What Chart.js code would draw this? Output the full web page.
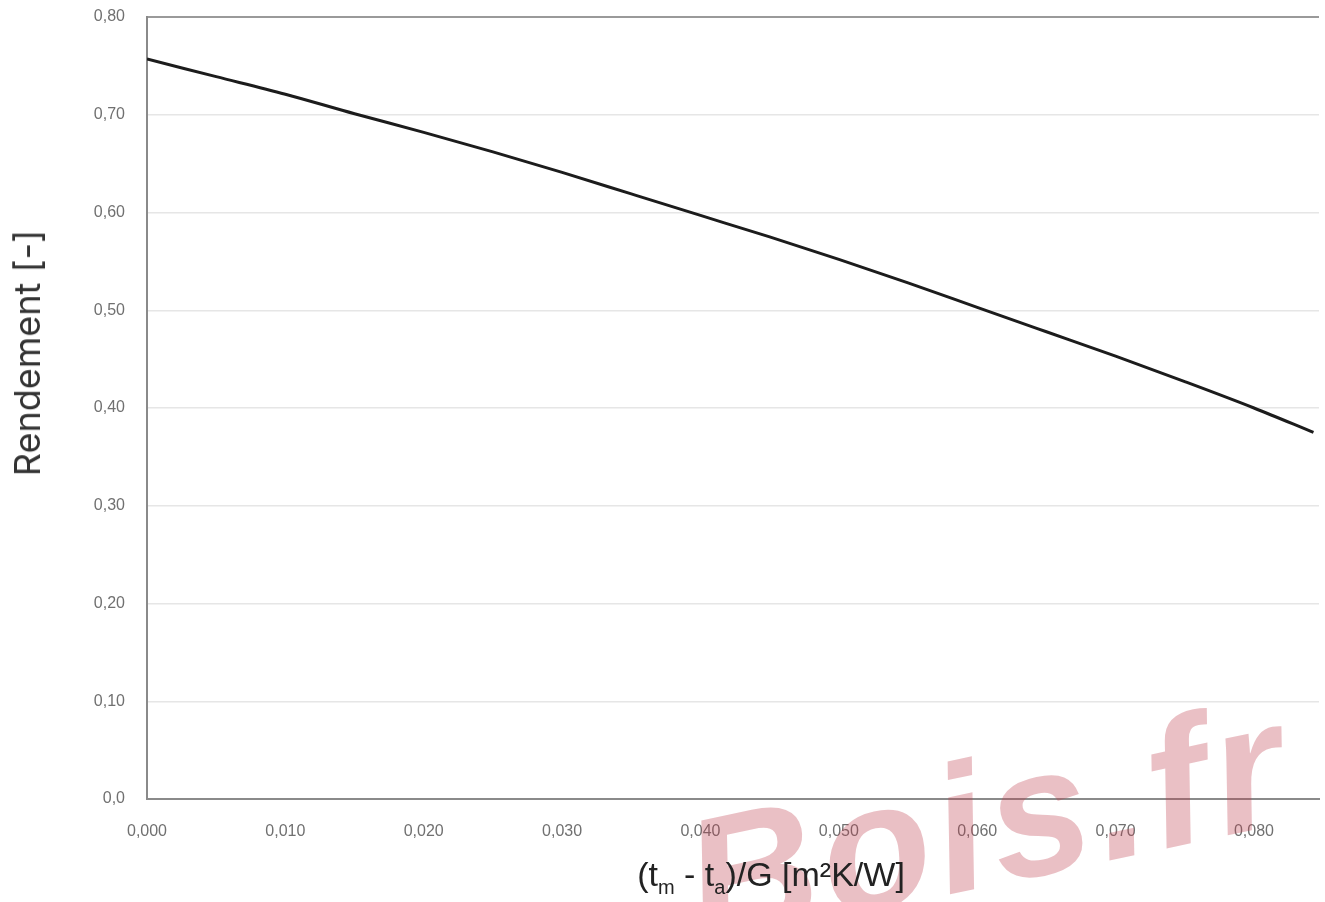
<!DOCTYPE html>
<html>
<head>
<meta charset="utf-8">
<script src="https://cdn.jsdelivr.net/npm/chart.js@4/dist/chart.umd.min.js"></script>
<style>
    body { margin: 0; background: #fff; }
    #wrap { position: relative; width: 1325px; height: 902px; overflow: hidden; }
    #chart { position: absolute; left: 0; top: 0; }
    .ytitle {
        position: absolute; left: 27px; top: 353px;
        transform: translate(-50%, -50%) rotate(-90deg);
        font-family: Inter, "Open Sans", sans-serif; font-size: 36px;
        color: #333; white-space: nowrap;
    }
    .xtitle {
        position: absolute; left: 771px; top: 877px;
        transform: translate(-50%, -50%);
        font-family: "Liberation Sans Narrow", "Arial Narrow", "Liberation Sans", sans-serif;
        font-size: 34px; color: #222; white-space: nowrap;
    }
    .xtitle sub { font-size: 20px; vertical-align: -8px; }
    .watermark {
        position: absolute; left: 666px; top: 785px;
        transform: rotate(-12deg); transform-origin: left top;
        font-family: "Liberation Sans", Arial, sans-serif; font-weight: bold; font-style: italic;
        font-size: 180px; line-height: 1.15; letter-spacing: 6px;
        color: rgba(190, 60, 75, 0.32); white-space: nowrap;
        pointer-events: none;
    }
</style>
</head>
<body>
<div id="wrap">
    <canvas id="chart" width="1325" height="902"></canvas>
    <div class="watermark">Bois.fr</div>
    <div class="ytitle">Rendement [-]</div>
    <div class="xtitle">(t<sub>m</sub> - t<sub>a</sub>)/G [m²K/W]</div>
</div>
<script>
// Reduced temperature difference (x) and collector efficiency (y)
const xValues = [0, 0.005, 0.010, 0.015, 0.020, 0.025, 0.030, 0.035, 0.040,
                 0.045, 0.050, 0.055, 0.060, 0.065, 0.070, 0.075, 0.080, 0.0843];
const yValues = [0.757, 0.739, 0.721, 0.701, 0.682, 0.662, 0.641, 0.619, 0.597,
                 0.575, 0.552, 0.528, 0.503, 0.478, 0.453, 0.427, 0.400, 0.375];

// Axis ticks as printed on the chart
const xTicks = [0, 0.01, 0.02, 0.03, 0.04, 0.05, 0.06, 0.07, 0.08];
const xTickLabels = ["0,000", "0,010", "0,020", "0,030", "0,040", "0,050", "0,060", "0,070", "0,080"];
const yTicks = [0, 0.1, 0.2, 0.3, 0.4, 0.5, 0.6, 0.7, 0.8];
const yTickLabels = ["0,0", "0,10", "0,20", "0,30", "0,40", "0,50", "0,60", "0,70", "0,80"];

const tickFont = { family: "'Liberation Sans Narrow', 'Arial Narrow', 'Liberation Sans', sans-serif", size: 16 };

new Chart(document.getElementById("chart"), {
    type: "scatter",
    data: {
        datasets: [{
            data: xValues.map((x, i) => ({ x: x, y: yValues[i] })),
            showLine: true,
            borderColor: "#1c1c1c",
            borderWidth: 3,
            pointRadius: 0,
            cubicInterpolationMode: "monotone"
        }]
    },
    options: {
        responsive: false,
        animation: false,
        layout: { padding: { top: 17, right: 6, left: 0, bottom: 0 } },
        plugins: { legend: { display: false }, tooltip: { enabled: false } },
        scales: {
            x: {
                type: "linear",
                min: 0,
                max: 0.0847,
                afterFit: (s) => { s.height = 103; },
                afterBuildTicks: (s) => { s.ticks = xTicks.map(v => ({ value: v })); },
                grid: { display: false, drawTicks: false },
                border: { display: true, color: "#8a8a8a", width: 2 },
                ticks: {
                    padding: 23,
                    color: "#707070",
                    font: tickFont,
                    maxRotation: 0,
                    callback: (v, i) => xTickLabels[i]
                }
            },
            y: {
                min: 0,
                max: 0.8,
                // fixed axis width, and no extra top/bottom room for the tick labels
                afterFit: (s) => { s.width = 147; s.paddingTop = 0; s.paddingBottom = 0; },
                afterBuildTicks: (s) => { s.ticks = yTicks.map(v => ({ value: v })); },
                grid: {
                    drawTicks: false,
                    color: (ctx) => ctx.tick && ctx.tick.value === 0.8 ? "#9a9a9a" : "#e6e6e6",
                    lineWidth: (ctx) => ctx.tick && ctx.tick.value === 0.8 ? 2 : 1.5
                },
                border: { display: true, color: "#8a8a8a", width: 2 },
                ticks: {
                    padding: 22,
                    color: "#707070",
                    font: tickFont,
                    callback: (v, i) => yTickLabels[i]
                }
            }
        }
    }
});
</script>
</body>
</html>
